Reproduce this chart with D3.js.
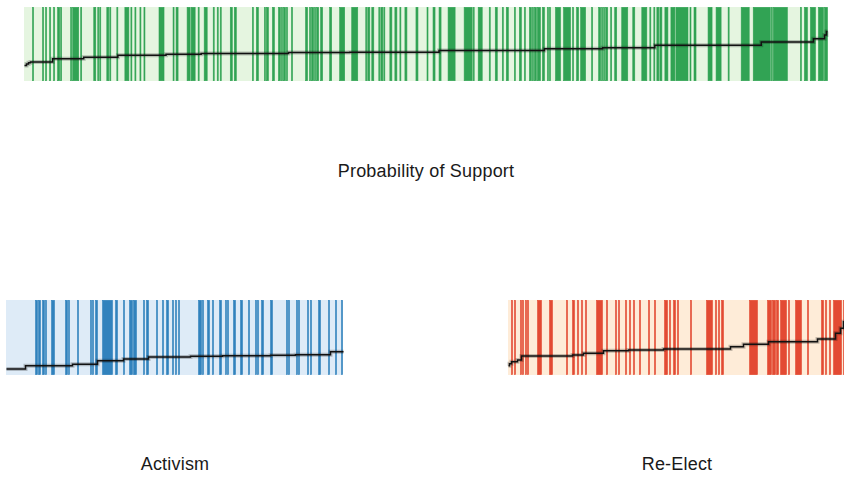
<!DOCTYPE html>
<html>
<head>
<meta charset="utf-8">
<script src="https://cdn.jsdelivr.net/npm/d3@7"></script>
<style>
  body { margin: 0; background: #fff; }
  svg { display: block; }
</style>
</head>
<body>
<svg id="chart" width="844" height="479"></svg>
<script>
// Separation plots: observations are ordered by fitted probability, a coloured
// stripe marks each case where the outcome occurred, and the black line traces
// the fitted probability across the ordered cases.

// ---- Probability of Support ----
const supportN = 800;
// runs of ordered cases (first, last) with outcome = 1
const supportEvents = [
  [8,8],[18,18],[21,21],[25,25],[29,29],[33,34],[36,36],[46,46],[48,53],[56,56],
  [69,70],[73,73],[75,75],[82,83],[85,85],[92,92],[100,103],[106,106],[110,110],[115,115],
  [119,119],[134,138],[148,148],[151,152],[162,164],[166,169],[173,173],[179,181],[188,188],[192,192],
  [195,195],[205,206],[209,210],[227,227],[231,232],[239,239],[241,242],[247,248],[253,254],[256,256],
  [258,259],[261,261],[266,266],[280,281],[284,284],[286,287],[289,289],[291,292],[295,296],[304,305],
  [314,318],[326,331],[340,340],[342,343],[346,347],[353,353],[355,356],[358,358],[364,365],[369,370],
  [374,374],[379,380],[390,391],[401,401],[407,408],[413,414],[422,428],[438,445],[447,447],[452,455],
  [463,463],[469,470],[476,476],[480,481],[488,488],[493,494],[498,498],[503,504],[506,506],[508,509],
  [511,513],[516,517],[521,521],[523,523],[529,533],[537,543],[546,546],[550,551],[554,558],[565,565],
  [572,573],[575,575],[577,577],[579,580],[584,584],[588,589],[595,600],[606,607],[615,619],[623,623],
  [627,627],[630,631],[633,634],[638,640],[644,647],[649,660],[663,663],[667,668],[681,684],[689,693],
  [701,701],[714,721],[726,742],[744,744],[746,759],[773,773],[777,779],[783,787],[791,795],[797,799]
];
// fitted probability: (first ordered case, level)
const supportFit = [
  [0,0.21],[2,0.23],[4,0.245],[6,0.257],[28,0.30],[59,0.32],[93,0.347],[141,0.36],[176,0.37],
  [263,0.385],[324,0.39],[413,0.413],[518,0.435],[576,0.45],[628,0.482],[734,0.527],[786,0.572],
  [797,0.62],[799,0.67]
];

// ---- Activism ----
const activismN = 337;
const activismEvents = [
  [29,30],[32,33],[36,37],[39,39],[45,47],[59,60],[62,62],[71,71],[84,84],[86,86],
  [89,90],[96,105],[109,110],[117,117],[123,125],[127,129],[137,137],[140,141],[150,150],[156,156],
  [160,161],[166,166],[169,169],[172,172],[192,194],[196,196],[201,202],[206,206],[213,214],[219,219],
  [221,221],[227,228],[234,235],[242,242],[249,249],[251,251],[255,256],[264,265],[280,280],[282,282],
  [290,290],[292,292],[301,301],[304,304],[312,313],[322,322],[329,329],[335,335]
];
const activismFit = [
  [0,0.08],[19,0.124],[66,0.143],[91,0.19],[117,0.213],[142,0.24],[184,0.25],[216,0.257],
  [264,0.263],[289,0.27],[324,0.31]
];

// ---- Re-Elect ----
const reelectN = 337;
const reelectEvents = [
  [3,3],[6,6],[12,12],[14,14],[17,17],[19,19],[29,32],[41,43],[58,58],[64,65],
  [69,69],[73,73],[77,77],[88,93],[98,98],[107,107],[110,110],[117,117],[121,121],[125,125],
  [131,131],[140,140],[146,146],[156,158],[161,161],[165,166],[169,169],[182,182],[198,203],[207,207],
  [210,210],[213,214],[241,248],[259,262],[264,266],[268,269],[272,277],[280,280],[287,292],[299,299],
  [313,314],[317,317],[321,321],[325,332],[335,335]
];
const reelectFit = [
  [0,0.124],[1,0.15],[3,0.177],[9,0.2],[13,0.253],[64,0.267],[75,0.289],[95,0.324],[120,0.333],
  [155,0.347],[222,0.377],[235,0.409],[260,0.444],[309,0.48],[327,0.556],[332,0.623],[335,0.71]
];

const titles = ["Probability of Support", "Activism", "Re-Elect"];

// ---- layout and drawing ----
const panels = [
  { title: titles[0], n: supportN, events: supportEvents, fit: supportFit,
    x: 24.5, y: 7, w: 803, h: 74, bg: "#e5f5e0", fg: "#31a354", labelY: 177 },
  { title: titles[1], n: activismN, events: activismEvents, fit: activismFit,
    x: 6.5, y: 300, w: 337, h: 75, bg: "#deebf7", fg: "#3182bd", labelY: 470 },
  { title: titles[2], n: reelectN, events: reelectEvents, fit: reelectFit,
    x: 508.5, y: 300, w: 337, h: 75, bg: "#feecd8", fg: "#e34a33", labelY: 470 }
];

const svg = d3.select("#chart");

panels.forEach(p => {
  const xs = d3.scaleLinear().domain([0, p.n]).range([p.x, p.x + p.w]);
  const ys = d3.scaleLinear().domain([0, 1]).range([p.y + p.h, p.y]);
  const g = svg.append("g");

  g.append("rect")
    .attr("x", xs(0) - 0.5).attr("y", ys(1))
    .attr("width", xs(p.n) - xs(0)).attr("height", ys(0) - ys(1))
    .attr("fill", p.bg);

  // stripes get a hairline outline in their own colour so single cases read clearly
  g.selectAll("rect.event")
    .data(p.events)
    .join("rect")
    .attr("class", "event")
    .attr("x", d => xs(d[0]))
    .attr("y", ys(1) + 0.3)
    .attr("width", d => xs(d[1] + 1) - xs(d[0]))
    .attr("height", ys(0) - ys(1) - 0.6)
    .attr("fill", p.fg)
    .attr("stroke", p.fg)
    .attr("stroke-width", 0.6);

  const pts = p.fit.concat([[p.n, p.fit[p.fit.length - 1][1]]]);
  const line = d3.line()
    .x(d => xs(d[0]))
    .y(d => ys(d[1]))
    .curve(d3.curveStepAfter);

  g.append("path")
    .attr("d", line(pts))
    .attr("fill", "none")
    .attr("stroke", "#000")
    .attr("stroke-opacity", 0.22)
    .attr("stroke-width", 4);

  g.append("path")
    .attr("d", line(pts))
    .attr("fill", "none")
    .attr("stroke", "#111")
    .attr("stroke-width", 1.5);

  svg.append("text")
    .attr("x", (xs(0) + xs(p.n)) / 2)
    .attr("y", p.labelY)
    .attr("text-anchor", "middle")
    .attr("font-family", "'Liberation Sans', Arial, Helvetica, sans-serif")
    .attr("font-size", 18)
    .attr("letter-spacing", 0.2)
    .attr("fill", "#1a1a1a")
    .text(p.title);
});
</script>
</body>
</html>
